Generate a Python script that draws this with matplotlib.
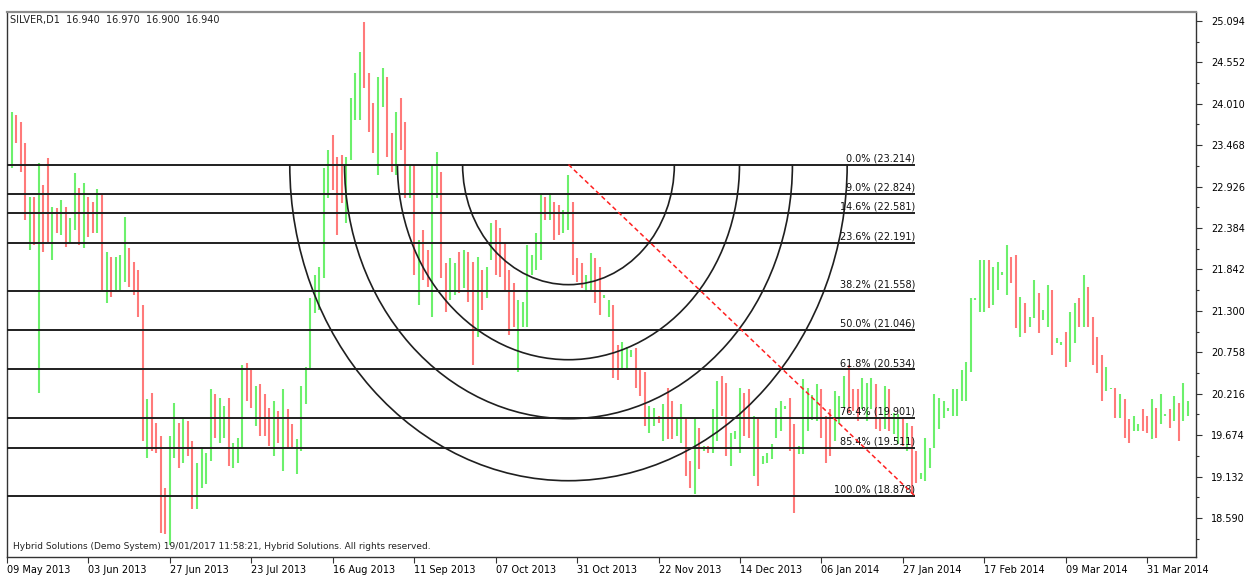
import matplotlib
matplotlib.use("Agg")
import matplotlib.pyplot as plt
import numpy as np
from matplotlib.patches import Arc

# daily bars, SILVER D1 (high / low)
highs = [
    24.19, 23.90, 23.86, 23.77, 23.50, 22.79, 22.79, 23.24, 22.95, 23.30,
    22.66, 22.65, 22.75, 22.66, 22.52, 23.11, 22.91, 22.97, 22.79, 22.73,
    22.90, 22.82, 22.07, 22.01, 22.01, 22.03, 22.53, 22.12, 21.94, 21.84,
    21.38, 20.15, 20.23, 19.83, 19.66, 18.98, 19.66, 20.09, 19.83, 19.90,
    19.86, 19.60, 19.31, 19.51, 19.44, 20.28, 20.21, 20.16, 20.06, 20.16,
    19.57, 19.64, 20.59, 20.62, 20.53, 20.32, 20.34, 20.21, 20.03, 20.12,
    19.99, 20.28, 20.02, 19.82, 19.62, 20.32, 20.57, 21.47, 21.77, 21.88,
    23.17, 23.41, 23.60, 23.31, 23.34, 23.31, 24.09, 24.41, 24.69, 25.08,
    24.41, 24.02, 24.36, 24.48, 24.36, 23.63, 23.90, 24.09, 23.77, 23.21,
    23.21, 22.23, 22.36, 22.10, 23.21, 23.38, 23.12, 21.93, 21.99, 21.93,
    22.07, 22.10, 22.07, 21.94, 22.01, 21.84, 21.88, 22.45, 22.49, 22.39,
    22.20, 21.84, 21.67, 21.44, 21.42, 22.16, 22.03, 22.32, 22.82, 22.79,
    22.84, 22.73, 22.69, 22.62, 23.08, 22.73, 21.99, 21.93, 21.77, 22.06,
    21.99, 21.88, 21.51, 21.44, 21.38, 20.85, 20.89, 20.83, 20.79, 20.81,
    20.53, 20.50, 20.06, 20.03, 19.92, 20.08, 20.29, 20.12, 19.90, 20.08,
    19.90, 19.34, 19.90, 19.77, 19.53, 19.53, 20.02, 20.38, 20.45, 20.36,
    19.70, 19.73, 20.29, 20.23, 20.28, 19.92, 19.90, 19.40, 19.44, 19.56,
    20.03, 20.12, 20.06, 20.16, 19.82, 19.53, 20.41, 20.29, 20.20, 20.34,
    20.28, 19.92, 20.02, 20.25, 20.19, 20.45, 20.59, 20.28, 20.28, 20.42,
    20.36, 20.42, 20.34, 19.89, 20.32, 20.28, 19.96, 19.95, 19.89, 19.83,
    19.79, 19.47, 19.18, 19.64, 19.51, 20.21, 20.16, 20.12, 20.03, 20.28,
    20.28, 20.53, 20.63, 21.47, 21.47, 21.97, 21.97, 21.97, 21.88, 21.94,
    21.81, 22.16, 22.01, 22.03, 21.48, 21.40, 21.22, 21.70, 21.53, 21.31,
    21.64, 21.57, 20.95, 20.89, 21.02, 21.29, 21.40, 21.47, 21.77, 21.61,
    21.22, 20.96, 20.72, 20.57, 20.29, 20.29, 20.21, 20.15, 19.89, 19.92,
    19.82, 20.02, 19.92, 20.15, 20.03, 20.21, 19.95, 20.02, 20.19, 20.09,
    20.36, 20.12,
]
lows = [
    23.54, 23.17, 23.50, 23.12, 22.49, 22.10, 22.16, 20.23, 22.07, 22.20,
    21.97, 22.32, 22.29, 22.14, 22.19, 22.36, 22.16, 22.12, 22.27, 22.32,
    22.32, 21.57, 21.40, 21.48, 21.57, 21.57, 21.68, 21.61, 21.51, 21.22,
    19.60, 19.37, 19.47, 19.44, 18.39, 18.38, 18.24, 19.37, 19.24, 19.31,
    19.40, 18.71, 18.71, 18.98, 19.03, 19.34, 19.64, 19.57, 19.64, 19.27,
    19.24, 19.31, 19.51, 20.12, 20.03, 19.79, 19.66, 19.66, 19.53, 19.40,
    19.57, 19.20, 19.49, 19.49, 19.17, 19.47, 20.08, 20.55, 21.27, 21.31,
    21.73, 22.78, 22.88, 22.29, 22.71, 22.45, 23.28, 23.80, 23.80, 24.22,
    23.64, 23.37, 23.08, 23.97, 23.31, 23.12, 23.08, 23.41, 22.78, 22.78,
    21.77, 21.38, 21.70, 21.61, 21.22, 22.78, 21.73, 21.29, 21.44, 21.51,
    21.53, 21.60, 21.42, 20.59, 20.96, 21.31, 21.47, 21.97, 21.77, 21.74,
    21.57, 20.98, 21.09, 20.50, 21.09, 21.09, 21.77, 21.84, 21.97, 22.49,
    22.49, 22.23, 22.29, 22.32, 22.36, 21.77, 21.68, 21.60, 21.55, 21.57,
    21.40, 21.25, 21.47, 21.22, 20.42, 20.40, 20.53, 20.53, 20.70, 20.29,
    20.19, 19.79, 19.70, 19.79, 19.83, 19.60, 19.62, 19.62, 19.66, 19.57,
    19.14, 18.98, 18.90, 19.23, 19.47, 19.44, 19.44, 19.60, 19.92, 19.40,
    19.27, 19.62, 19.44, 19.66, 19.64, 19.14, 19.01, 19.30, 19.31, 19.36,
    19.64, 19.73, 20.02, 19.47, 18.65, 19.43, 19.43, 19.73, 19.87, 19.86,
    19.64, 19.31, 19.40, 19.60, 19.82, 20.03, 19.96, 19.99, 19.86, 20.02,
    19.86, 20.02, 19.75, 19.73, 19.75, 19.73, 19.69, 19.56, 19.53, 19.47,
    18.90, 19.05, 19.10, 19.07, 19.24, 19.51, 19.75, 19.90, 19.99, 19.92,
    19.92, 20.12, 20.12, 20.50, 21.44, 21.29, 21.29, 21.34, 21.38, 21.57,
    21.77, 21.51, 21.67, 21.08, 20.96, 21.01, 21.09, 21.21, 21.01, 21.18,
    21.09, 20.72, 20.88, 20.85, 20.57, 20.63, 20.88, 21.09, 21.09, 21.09,
    20.59, 20.49, 20.12, 20.25, 20.28, 19.90, 19.90, 19.64, 19.57, 19.73,
    19.73, 19.73, 19.70, 19.62, 19.64, 19.82, 19.93, 19.77, 19.86, 19.60,
    19.86, 19.92,
]
# g = bull bar, r = bear bar
direction = (
    "rgrrrgrgrr" "grgrggrgrr" "grgrgggrrr" "rgrrrrggrg" "rrggggrggr"
    "gggrrgrrrg" "rgrrgggggg" "ggrrrggggr" "rrggrrgrrg" "rgrrggrrgg"
    "rgrrgrggrr" "rrrggggggr" "grrggrrrgg" "rrggrrgggr" "rrggrgrrgg"
    "rrgrgrggrr" "gggrrgrggg" "gggrrggggg" "rrrgggrrrg" "ggrrgrggrg"
    "rrgggggggg" "gggggggrgg" "ggrrgrggrg" "grggrggrgr" "rrrggrgrrg"
    "grrgrggrgr" "gg"
)

date_labels = ["09 May 2013", "03 Jun 2013", "27 Jun 2013", "23 Jul 2013",
               "16 Aug 2013", "11 Sep 2013", "07 Oct 2013", "31 Oct 2013",
               "22 Nov 2013", "14 Dec 2013", "06 Jan 2014", "27 Jan 2014",
               "17 Feb 2014", "09 Mar 2014", "31 Mar 2014"]
bars_per_label = 18

price_ticks = [25.094, 24.552, 24.010, 23.468, 22.926, 22.384, 21.842,
               21.300, 20.758, 20.216, 19.674, 19.132, 18.590]

fib_pcts = ["0.0%", "9.0%", "14.6%", "23.6%", "38.2%", "50.0%", "61.8%",
            "76.4%", "85.4%", "100.0%"]
fib_prices = [23.214, 22.824, 22.581, 22.191, 21.558, 21.046, 20.534,
              19.901, 19.511, 18.878]

# fibo anchors (bar index, price) and arc radii
fib_start = (124.1, 23.214)
fib_end = (200.7, 18.878)
arc_x_radii = [23.4, 37.8, 49.5, 61.6]
arc_y_radii = [1.571, 2.553, 3.325, 4.136]

fig = plt.figure(figsize=(12.49, 5.76), dpi=100)
ax = fig.add_axes([7 / 1249, 19 / 576, 1189 / 1249, 545 / 576])

x = np.arange(len(highs))
cols = ["#6cf06c" if d == "g" else "#ff7a7a" for d in direction]
ax.vlines(x, lows, highs, colors=cols, linewidth=1.5, zorder=2)

# fibo levels
ax.hlines(fib_prices, 0, fib_end[0], colors="#1f1f1f", linewidth=1.4, zorder=3)
for pct, p in zip(fib_pcts, fib_prices):
    ax.annotate(f"{pct} ({p:.3f})", (fib_end[0], p), xytext=(0, 1),
                textcoords="offset points", ha="right", va="bottom",
                fontsize=7, color="#111111", zorder=4)

# fibo arcs
for rx, ry in zip(arc_x_radii, arc_y_radii):
    ax.add_patch(Arc(fib_start, 2 * rx, 2 * ry, theta1=180, theta2=360,
                     color="#1f1f1f", linewidth=1.2, zorder=3))

ax.plot([fib_start[0], fib_end[0]], [fib_start[1], fib_end[1]],
        color="#ff2020", linewidth=1.1, linestyle=(0, (3, 2)), zorder=4)

ax.set_xlim(0, 262.8)
ax.set_ylim(18.08, 25.21)

ax.set_xticks(np.arange(len(date_labels)) * bars_per_label)
ax.set_xticklabels(date_labels, ha="left", fontsize=7)
ax.tick_params(axis="x", length=4, width=0.8, pad=1.5, color="#333333")

ax.yaxis.tick_right()
ax.set_yticks(price_ticks)
ax.set_yticklabels([f"{p:.3f}" for p in price_ticks], fontsize=7)
minor = [(a + b) / 2 for a, b in zip(price_ticks[:-1], price_ticks[1:])]
ax.set_yticks(minor + [price_ticks[-1] - 0.271], minor=True)
ax.tick_params(axis="y", which="major", length=4, width=0.8, pad=7, color="#333333")
ax.tick_params(axis="y", which="minor", length=2.5, width=0.8, color="#333333")

for s in ax.spines.values():
    s.set_color("#333333")
    s.set_linewidth(1.0)
ax.spines["top"].set_color("#8c8c8c")
ax.spines["top"].set_linewidth(1.6)

ax.text(0.0025, 0.985, "SILVER,D1  16.940  16.970  16.900  16.940",
        transform=ax.transAxes, fontsize=7, va="center", ha="left", color="#222222")
ax.text(0.005, 0.02,
        "Hybrid Solutions (Demo System) 19/01/2017 11:58:21, Hybrid Solutions. All rights reserved.",
        transform=ax.transAxes, fontsize=6.5, va="center", ha="left", color="#222222")

fig.savefig("out.png", dpi=100)
